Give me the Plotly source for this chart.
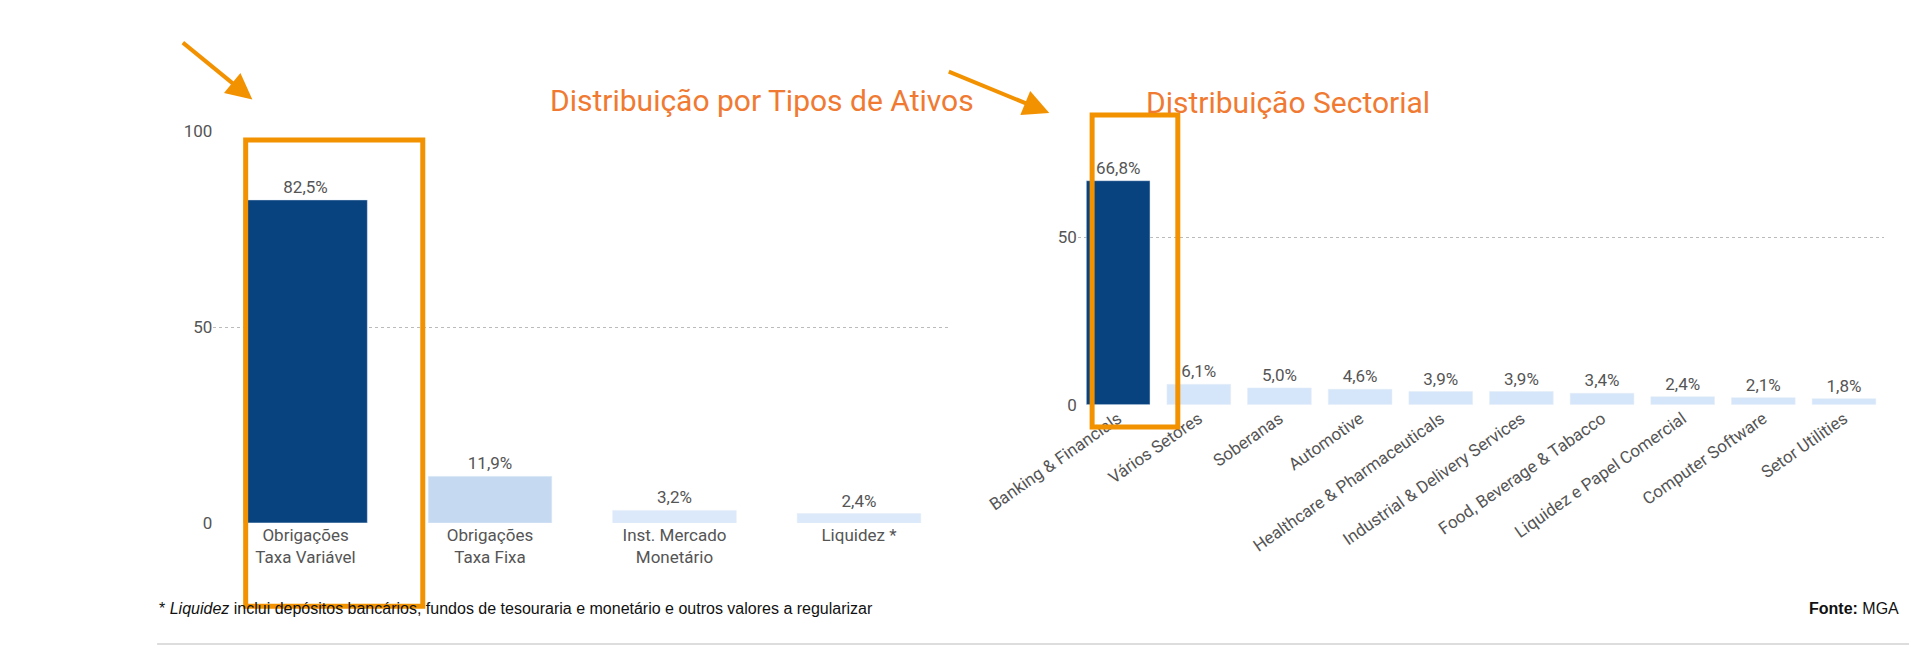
import plotly.graph_objects as go

W, H = 1922, 648

asset_types = ["Obrigações<br>Taxa Variável", "Obrigações<br>Taxa Fixa", "Inst. Mercado<br>Monetário", "Liquidez *"]
asset_values = [82.5, 11.9, 3.2, 2.4]
asset_colors = ["#08427f", "#c5d9f1", "#dbe9fb", "#dbe9fb"]

sectors = ["Banking & Financials", "Vários Setores", "Soberanas", "Automotive",
           "Healthcare & Pharmaceuticals", "Industrial & Delivery Services",
           "Food, Beverage & Tabacco", "Liquidez e Papel Comercial",
           "Computer Software", "Setor Utilities"]
sector_values = [66.8, 6.1, 5.0, 4.6, 3.9, 3.9, 3.4, 2.4, 2.1, 1.8]
sector_colors = ["#08427f"] + ["#d6e6fa"] * 9

def px(x):
    return x / W

def py(y):
    return 1 - y / H

def pct(v):
    return f"{v:.1f}%".replace(".", ",")

FONT = "Liberation Sans Narrow, Roboto, sans-serif"
GREY = "#555555"
ORANGE = "#f39200"

fig = go.Figure()
fig.add_trace(go.Bar(x=asset_types, y=asset_values, marker_color=asset_colors,
    text=[pct(v) for v in asset_values], textposition="outside",
    textfont=dict(size=17, color=GREY), cliponaxis=False, xaxis="x", yaxis="y"))
fig.add_trace(go.Bar(x=sectors, y=sector_values, marker_color=sector_colors,
    text=[pct(v) for v in sector_values], textposition="outside",
    textfont=dict(size=17, color=GREY), cliponaxis=False, xaxis="x2", yaxis="y2"))

ax = dict(showgrid=False, showline=False, zeroline=False, ticks="",
          tickfont=dict(size=17, color=GREY))
ay = dict(showgrid=True, gridcolor="#bbbbbb", griddash="dot", zeroline=False,
          ticksuffix="%", tickfont=dict(size=17, color=GREY))

fig.update_layout(
    width=W, height=H, margin=dict(l=0, r=0, t=0, b=0),
    paper_bgcolor="white", plot_bgcolor="white", showlegend=False,
    font=dict(family=FONT), bargap=0.33,
    xaxis=dict(ax, domain=[px(119), px(894)]),
    yaxis=dict(ay, domain=[py(521), py(117)], range=[0, 100], tickvals=[0, 50, 100]),
    xaxis2=dict(ax, domain=[px(1027), px(1874)], anchor="y2", tickangle=-35),
    yaxis2=dict(ay, domain=[py(399), py(53)], range=[0, 100], tickvals=[0, 50],
                anchor="x2"),
)
fig.data[1].update(width=0.79)

fig.add_annotation(text="Distribuição por Tipos de Ativos", x=px(471), y=py(65),
    xref="paper", yref="paper", showarrow=False,
    font=dict(size=30, color="#f07a32", family=FONT))
fig.add_annotation(text="Distribuição Sectorial", x=px(1399), y=py(67),
    xref="paper", yref="paper", showarrow=False,
    font=dict(size=30, color="#f07a32", family=FONT))

# destaque (caixas e setas laranja)
for x0, y0, x1, y1 in [(153, 126, 339, 607), (1042, 100, 1132, 422)]:
    fig.add_shape(type="rect", xref="paper", yref="paper",
        x0=px(x0), x1=px(x1), y0=py(y0), y1=py(y1),
        line=dict(color=ORANGE, width=5))
for (xs, ys), (xe, ye) in [((89, 26), (160, 84)), ((895, 56), (997, 98))]:
    fig.add_annotation(x=px(xe), y=py(ye), ax=xs - xe, ay=ys - ye,
        xref="paper", yref="paper", axref="pixel", ayref="pixel", text="",
        showarrow=True, arrowhead=2, arrowsize=1.3, arrowwidth=4, arrowcolor=ORANGE)

fig.add_annotation(text="* <i>Liquidez</i> inclui depósitos bancários, fundos de tesouraria e monetário e outros valores a regularizar",
    x=px(60), y=py(620), xref="paper", yref="paper", xanchor="left", showarrow=False,
    font=dict(size=16, color="#111111", family="Liberation Sans Narrow, Arial"))
fig.add_annotation(text="<b>Fonte:</b> MGA", x=px(1892), y=py(620),
    xref="paper", yref="paper", xanchor="right", showarrow=False,
    font=dict(size=16, color="#111111", family="Liberation Sans Narrow, Arial"))
fig.add_shape(type="line", xref="paper", yref="paper", x0=px(60), x1=px(1900),
    y0=py(646), y1=py(646), line=dict(color="#dddddd", width=2))

fig.write_html("out.html")
